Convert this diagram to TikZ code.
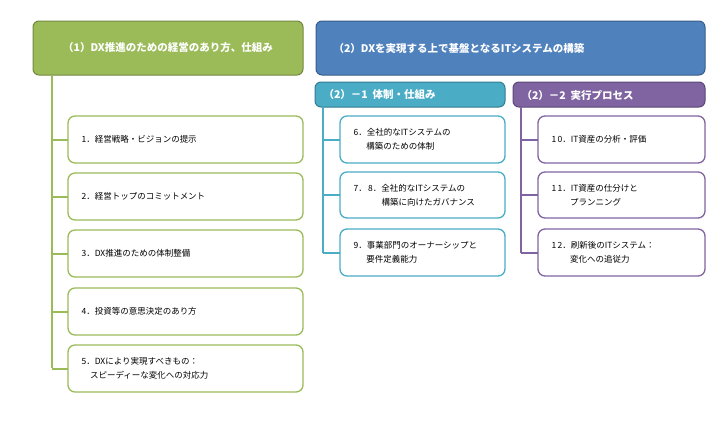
\documentclass[tikz,border=0pt]{standalone}
\usepackage{fontspec}
\setmainfont{Noto Sans CJK JP}
\definecolor{gr}{HTML}{9BBB59}\definecolor{grd}{HTML}{71893F}
\definecolor{bl}{HTML}{4F81BD}\definecolor{bld}{HTML}{385D8A}
\definecolor{tl}{HTML}{4BACC6}\definecolor{tld}{HTML}{357D91}
\definecolor{pu}{HTML}{8064A2}\definecolor{pud}{HTML}{5C4776}
\begin{document}
\begin{tikzpicture}[x=1pt,y=-1pt,
 hdr/.style={rounded corners=6pt,line width=1pt,text=white,font=\bfseries\fontsize{10.5}{12}\selectfont},
 item/.style={rounded corners=7pt,line width=1.3pt,fill=white},
 tree/.style={line width=2pt},
 lbl/.style={anchor=west,align=left,font=\fontsize{8.5}{14}\selectfont}]
\useasboundingbox (0,0) rectangle (726,421);
% headers
\draw[hdr,fill=gr,draw=grd] (33,21) rectangle (303,75);
\node[text=white,font=\bfseries\fontsize{10.5}{12}\selectfont] (h1) at (168,48) {（1）DX推進のための経営のあり方、仕組み};
\draw[hdr,fill=bl,draw=bld] (316,21) rectangle (705,75);
\node[text=white,font=\bfseries\fontsize{10.5}{12}\selectfont,anchor=west] (h2) at (330,48) {（2）DXを実現する上で基盤となるITシステムの構築};
\draw[hdr,fill=tl,draw=tld] (315,82) rectangle (505,107);
\node[text=white,font=\bfseries\fontsize{10.5}{12}\selectfont,anchor=west] (h21) at (320,95) {（2）－1\ \ 体制・仕組み};
\draw[hdr,fill=pu,draw=pud] (513,82) rectangle (705,107);
\node[text=white,font=\bfseries\fontsize{10.5}{12}\selectfont,anchor=west] (h22) at (518,95) {（2）－2\ \ 実行プロセス};
% left tree
\draw[tree,gr] (52,75) -- (52,368);
\foreach \y in {139.5,196.5,253.5,311.5,368.5} \draw[tree,gr] (52,\y) -- (68,\y);
\draw[item,draw=gr] (68,116) rectangle (303,163);
\draw[item,draw=gr] (68,173) rectangle (303,220);
\draw[item,draw=gr] (68,230) rectangle (303,277);
\draw[item,draw=gr] (68,288) rectangle (303,335);
\draw[item,draw=gr] (68,345) rectangle (303,392);
\node[lbl] (i1) at (78,139.5) {1．経営戦略・ビジョンの提示};
\node[lbl] (i2) at (78,196.5) {2．経営トップのコミットメント};
\node[lbl] (i3) at (78,253.5) {3．DX推進のための体制整備};
\node[lbl] (i4) at (78,311.5) {4．投資等の意思決定のあり方};
\node[lbl] (i5) at (78,368.5) {5．DXにより実現すべきもの：\\\hspace*{1em}スピーディーな変化への対応力};
% teal tree
\draw[tree,tl] (323,107) -- (323,252.5);
\foreach \y in {139.5,195,252.5} \draw[tree,tl] (323,\y) -- (340,\y);
\draw[item,draw=tl] (340,116) rectangle (505,163);
\draw[item,draw=tl] (340,172) rectangle (505,218);
\draw[item,draw=tl] (340,229) rectangle (505,276);
\node[lbl] (i6) at (350,139.5) {6．全社的なITシステムの\\\hspace*{1.5em}構築のための体制};
\node[lbl] (i7) at (350,195) {7．\,8．全社的なITシステムの\\\hspace*{3.3em}構築に向けたガバナンス};
\node[lbl] (i9) at (350,252.5) {9．事業部門のオーナーシップと\\\hspace*{1.5em}要件定義能力};
% purple tree
\draw[tree,pu] (521,107) -- (521,252.5);
\foreach \y in {139.5,195,252.5} \draw[tree,pu] (521,\y) -- (538,\y);
\draw[item,draw=pu] (538,116) rectangle (705,163);
\draw[item,draw=pu] (538,172) rectangle (705,218);
\draw[item,draw=pu] (538,229) rectangle (705,276);
\node[lbl] (i10) at (548,139.5) {1\,0．IT資産の分析・評価};
\node[lbl] (i11) at (548,195) {1\,1．IT資産の仕分けと\\\hspace*{2.2em}プランニング};
\node[lbl] (i12) at (548,252.5) {1\,2．刷新後のITシステム：\\\hspace*{2.2em}変化への追従力};
\end{tikzpicture}
\end{document}
